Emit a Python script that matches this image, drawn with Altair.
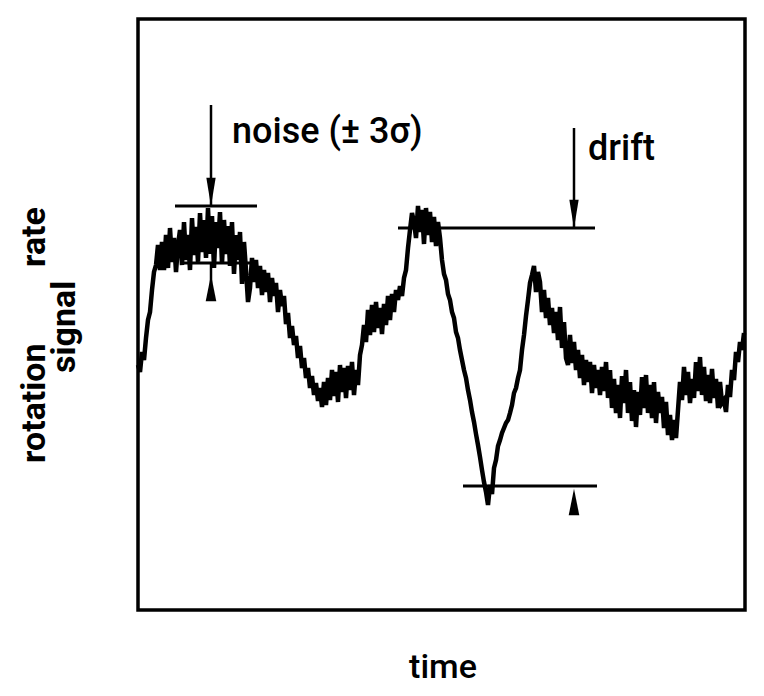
import altair as alt
import pandas as pd

# ---- recorded trace (arbitrary units: time 0..607, signal 0..591) ----
time_vals = [
    0, 2, 4, 6, 8, 10, 12, 14, 16, 18, 20, 22,
    24, 26, 28, 30, 32, 34, 36, 38, 40, 42, 44, 46, 48, 50, 52, 54, 56, 58, 60,
    62, 64, 66, 68, 70, 72, 74, 76, 78, 80, 82, 84, 86, 88, 90, 92, 94, 96, 98,
    100, 102, 104, 106, 108, 110, 112,
    114, 116, 118, 120, 122, 124, 126, 128, 130, 132, 134, 136, 138, 140, 142,
    144, 146, 148, 150, 152, 154, 156, 158, 160, 162, 164, 166, 168, 170, 172,
    174, 176, 178, 180, 182, 184,
    186, 188, 190, 192, 194, 196, 198, 200, 202, 204, 206, 208, 210, 212, 214,
    216, 218, 220, 222,
    224, 226, 228, 230, 232, 234, 236, 238, 240, 242, 244, 246, 248, 250, 252,
    254, 256, 258,
    260, 262, 264, 266, 268, 270, 272, 274, 276,
    278, 280, 282, 284, 286, 288, 290, 292, 294, 296, 298, 300, 302,
    304, 306, 308, 310, 312, 314, 316, 318, 320, 322, 324, 326, 328, 330, 332,
    334, 336, 338, 340, 342, 344, 346, 348, 350,
    352, 354, 356, 358, 360, 362, 364, 366, 368, 370, 372, 374, 376, 378, 380,
    382, 384, 386, 388, 390, 392, 394, 396, 398, 400,
    402, 404, 406, 408, 410, 412, 414, 416, 418, 420, 422, 424, 426, 428, 430,
    432, 434, 436, 438, 440, 442, 444, 446, 448, 450, 452, 454, 456, 458, 460, 462,
    464, 466, 468, 470, 472, 474, 476, 478, 480, 482, 484, 486, 488, 490, 492,
    494, 496, 498, 500, 502, 504, 506, 508, 510, 512, 514, 516, 518, 520, 522,
    524, 526, 528, 530, 532, 534, 536, 538, 540, 542, 544, 546, 548, 550, 552,
    554, 556, 558, 560, 562, 564, 566, 568, 570, 572, 574, 576, 578, 580, 582,
    584, 586, 588, 590, 592, 594, 596, 598, 600, 602, 604, 606,
]
signal_vals = [
    245, 238, 258, 250, 272, 290, 298, 320, 338, 345, 365, 340,
    368, 340, 375, 342, 382, 348, 372, 338, 365, 380, 345, 388, 350, 375, 340, 392, 355, 383, 348,
    397, 358, 390, 352, 402, 356, 394, 342, 388, 362, 398, 346, 390, 356, 384, 344, 388, 336, 375,
    350, 378, 326, 368, 340, 308, 322,
    352, 328, 350, 322, 344, 315, 340, 318, 337, 308, 332, 314, 327, 298, 320,
    304, 314, 286, 297, 272, 284, 265, 274, 252, 264, 242, 252, 232, 242, 222,
    234, 215, 227, 209, 222, 203,
    228, 205, 232, 210, 240, 214, 238, 208, 245, 218, 242, 212, 244, 220, 248,
    215, 240, 225, 255,
    265, 285, 268, 300, 275, 305, 278, 308, 282, 302, 276, 306, 285, 314, 290,
    316, 298, 320,
    310, 324, 314, 332, 340, 362, 380, 397, 388,
    372, 404, 378, 400, 366, 402, 375, 398, 368, 393, 364, 388, 372,
    350, 336, 330, 316, 310, 298, 292, 278, 272, 260, 250, 240, 232, 220, 210,
    198, 188, 176, 165, 153, 140, 128, 118, 105,
    125, 116, 142, 150, 164, 170, 177, 182, 187, 190, 197, 205, 217, 222, 232,
    240, 260, 275, 294, 310, 327, 335, 344, 318, 338,
    328, 298, 320, 292, 312, 285, 302, 277, 298, 270, 303, 262, 288, 252, 245,
    275, 247, 268, 240, 260, 232, 255, 225, 250, 228, 248, 217, 245, 222, 240, 215,
    243, 219, 248, 212, 240, 202, 231, 197, 225, 192, 234, 207, 240, 197, 228,
    189, 220, 183, 218, 195, 233, 202, 235, 197, 225, 192, 228, 187, 218, 197,
    213, 182, 208, 175, 195, 170, 190, 172, 200, 228, 210, 243, 215, 238, 207,
    231, 212, 248, 219, 253, 215, 243, 209, 235, 207, 241, 212, 231, 202, 228,
    207, 210, 198, 225, 213, 240, 230, 258, 248, 268, 260, 277,
]

# ---- annotation geometry (same units) ----
hline_y = [404, 347, 382, 124]
hline_x1 = [37, 42, 260, 325]
hline_x2 = [119, 112, 457, 459]

vline_x = [73, 73, 436]
vline_y1 = [505, 347, 482]
vline_y2 = [404, 312, 382]

down_arrow_x = [73, 436]
down_arrow_y = [418, 396]
up_arrow_x = [73, 436]
up_arrow_y = [322, 108]

note_text = ["noise (± 3σ)", "drift"]
note_x = [94, 450]
note_y = [467, 450]

trace_df = pd.DataFrame({"time": time_vals, "signal": signal_vals})
h_df = pd.DataFrame({"x1": hline_x1, "x2": hline_x2, "y": hline_y})
v_df = pd.DataFrame({"x": vline_x, "y1": vline_y1, "y2": vline_y2})
down_df = pd.DataFrame({"x": down_arrow_x, "y": down_arrow_y})
up_df = pd.DataFrame({"x": up_arrow_x, "y": up_arrow_y})
note_df = pd.DataFrame({"label": note_text, "x": note_x, "y": note_y})

xs = alt.Scale(domain=[0, 607], nice=False, zero=False)
ys = alt.Scale(domain=[0, 591], nice=False, zero=False)

trace = alt.Chart(trace_df).mark_line(color="black", strokeWidth=4.5).encode(
    x=alt.X("time:Q", scale=xs, axis=None),
    y=alt.Y("signal:Q", scale=ys, axis=None),
)

hrules = alt.Chart(h_df).mark_rule(color="black", strokeWidth=3).encode(
    x=alt.X("x1:Q", scale=xs, axis=None),
    x2="x2:Q",
    y=alt.Y("y:Q", scale=ys, axis=None),
)

vrules = alt.Chart(v_df).mark_rule(color="black", strokeWidth=2.5).encode(
    x=alt.X("x:Q", scale=xs, axis=None),
    y=alt.Y("y1:Q", scale=ys, axis=None),
    y2="y2:Q",
)

down_arrows = alt.Chart(down_df).mark_point(
    shape="M-0.33,-1 L0.33,-1 L0,1 Z", filled=True, color="black",
    size=800, opacity=1, strokeWidth=0,
).encode(
    x=alt.X("x:Q", scale=xs, axis=None),
    y=alt.Y("y:Q", scale=ys, axis=None),
)

up_arrows = alt.Chart(up_df).mark_point(
    shape="M-0.4,1 L0.4,1 L0,-1 Z", filled=True, color="black",
    size=700, opacity=1, strokeWidth=0,
).encode(
    x=alt.X("x:Q", scale=xs, axis=None),
    y=alt.Y("y:Q", scale=ys, axis=None),
)

notes = alt.Chart(note_df).mark_text(
    font="Roboto", fontSize=36, fontWeight=500, align="left",
    baseline="alphabetic", color="black",
).encode(
    x=alt.X("x:Q", scale=xs, axis=None),
    y=alt.Y("y:Q", scale=ys, axis=None),
    text="label:N",
)

def free_text(txt, px, py, size, angle=0, weight="normal", align="left"):
    return alt.Chart(pd.DataFrame({"t": [txt]})).mark_text(
        font="Roboto", fontSize=size, fontWeight=weight, align=align,
        baseline="alphabetic", angle=angle, color="black",
    ).encode(x=alt.value(px), y=alt.value(py), text="t:N")

x_title = free_text("time", 305, 659, 34, weight=500, align="center")
y_title1 = free_text("rotation", -93, 444, 34, angle=270, weight="bold")
y_title2 = free_text("rate", -93, 248, 34, angle=270, weight="bold")
y_title3 = free_text("signal", -63, 354, 34, angle=270, weight="bold")

chart = alt.layer(
    trace, hrules, vrules, down_arrows, up_arrows, notes,
    x_title, y_title1, y_title2, y_title3,
).properties(
    width=607, height=591,
    autosize=alt.AutoSizeParams(type="none"),
    padding={"left": 130, "top": 11, "right": 8, "bottom": 76},
).configure_view(stroke="black", strokeWidth=3.5)

chart.save("out.html", embed_options={"renderer": "svg", "actions": False})
